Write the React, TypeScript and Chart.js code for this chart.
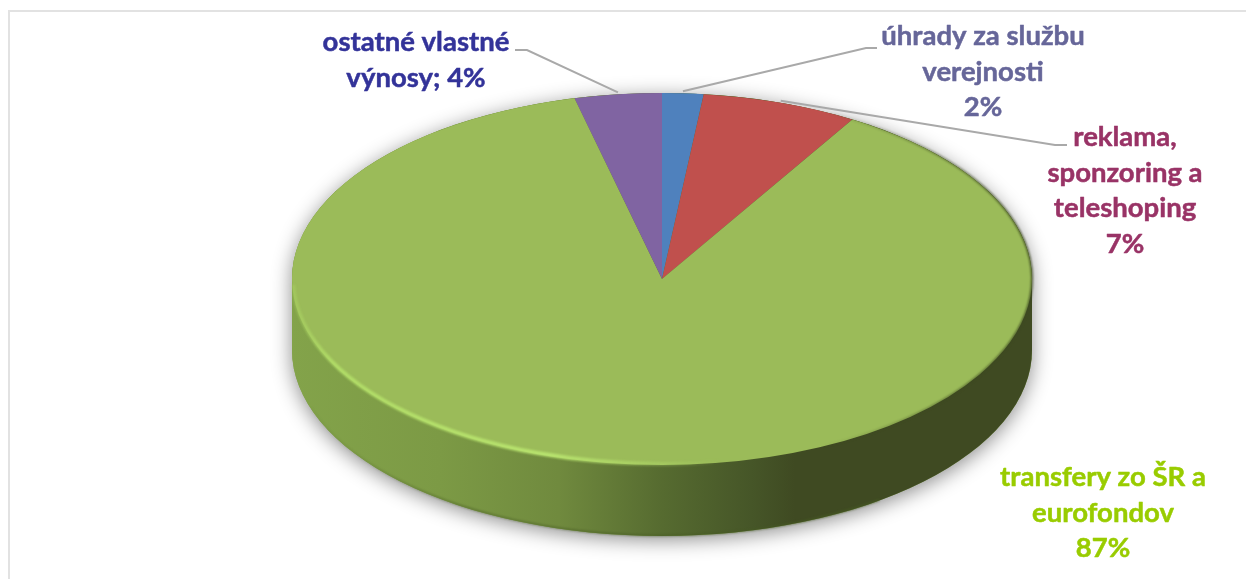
import React, { useEffect, useRef } from "react";
import { Chart, registerables } from "chart.js";

Chart.register(...registerables);

const categories = ["úhrady za službu verejnosti", "reklama, sponzoring a teleshoping", "transfery zo ŠR a eurofondov", "ostatné vlastné výnosy"];
const seriesValues = [1.8, 6.8, 87.6, 3.8];
const sliceColors = ["#4f81bd", "#c0504d", "#9bbb59", "#8064a2"];
const labelLines = [
  ["úhrady za službu", "verejnosti", "2%"],
  ["reklama,", "sponzoring a", "teleshoping", "7%"],
  ["transfery zo ŠR a", "eurofondov", "87%"],
  ["ostatné vlastné", "výnosy; 4%"],
];
const labelColors = ["#666699", "#993366", "#99cc00", "#333399"];
const labelCentres = [[983, 45], [1125, 146], [1103, 486], [416, 51]];
const leaderElbows: (number[][] | null)[] = [
  [[877, 48], [866, 48]],
  [[1067, 145], [1055, 145]],
  null,
  [[515, 50], [527, 50]],
];

const CX = 662, CY = 279, RX = 370, RY = 186, DEPTH = 71;

const pie3d = {
  id: "pie3d",
  beforeDraw(chart: any) {
    const { ctx, width, height } = chart;
    ctx.save();
    ctx.fillStyle = "#ffffff";
    ctx.fillRect(0, 0, width, height);
    ctx.fillStyle = "#e2e2e2";
    ctx.fillRect(8, 10, width - 8, 2);
    ctx.fillRect(8, 10, 2, height - 10);
    ctx.restore();
  },
  beforeDatasetsDraw(chart: any) {
    const { ctx } = chart;
    const arc = chart.getDatasetMeta(0).data[0];
    const outline = () => {
      ctx.beginPath();
      ctx.ellipse(CX, CY, RX, RY, 0, Math.PI, 2 * Math.PI);
      ctx.lineTo(CX + RX, CY + DEPTH);
      ctx.ellipse(CX, CY + DEPTH, RX, RY, 0, 0, Math.PI);
      ctx.closePath();
    };
    ctx.save();
    ctx.shadowColor = "rgba(0,0,0,0.45)";
    ctx.shadowBlur = 20;
    ctx.shadowOffsetY = 4;
    ctx.fillStyle = "#7f9f47";
    outline();
    ctx.fill();
    ctx.restore();

    const g = ctx.createLinearGradient(CX - RX, 0, CX + RX, 0);
    g.addColorStop(0, "#83a34a");
    g.addColorStop(0.2, "#7c9a45");
    g.addColorStop(0.36, "#708a3e");
    g.addColorStop(0.5, "#566b30");
    g.addColorStop(0.62, "#465628");
    g.addColorStop(0.68, "#3f4a22");
    g.addColorStop(1, "#3f4a22");
    ctx.save();
    ctx.fillStyle = g;
    outline();
    ctx.fill();
    ctx.restore();

    ctx.save();
    ctx.translate(CX, CY);
    ctx.scale(RX / arc.outerRadius, RY / arc.outerRadius);
    ctx.translate(-arc.x, -arc.y);
  },
  afterDatasetsDraw(chart: any) {
    const { ctx } = chart;
    ctx.restore();

    ctx.save();
    ctx.filter = "blur(1.2px)";
    const light = ctx.createLinearGradient(CX - RX, 0, CX + 60, 0);
    light.addColorStop(0, "rgba(178,222,104,0.3)");
    light.addColorStop(0.1, "rgba(178,222,104,0.95)");
    light.addColorStop(0.6, "rgba(186,230,112,0.95)");
    light.addColorStop(1, "rgba(186,230,112,0)");
    ctx.strokeStyle = light;
    ctx.lineWidth = 4;
    ctx.beginPath();
    ctx.ellipse(CX, CY, RX - 1, RY - 1, 0, Math.PI * 0.99, Math.PI * 0.45, true);
    ctx.stroke();

    const dark = ctx.createLinearGradient(CX + 160, 0, CX + RX, 0);
    dark.addColorStop(0, "rgba(60,72,32,0)");
    dark.addColorStop(0.6, "rgba(60,72,32,0.6)");
    dark.addColorStop(1, "rgba(60,72,32,0.9)");
    ctx.strokeStyle = dark;
    ctx.lineWidth = 2;
    ctx.beginPath();
    ctx.ellipse(CX, CY, RX, RY, 0, -Math.PI * 0.35, Math.PI * 0.4);
    ctx.stroke();

    const edge = ctx.createLinearGradient(CX - RX, 0, CX + 200, 0);
    edge.addColorStop(0, "rgba(70,90,35,0)");
    edge.addColorStop(0.3, "rgba(70,90,35,0.6)");
    edge.addColorStop(1, "rgba(70,90,35,0.9)");
    ctx.strokeStyle = edge;
    ctx.lineWidth = 1.5;
    ctx.beginPath();
    ctx.ellipse(CX, CY + DEPTH, RX - 0.5, RY - 0.5, 0, Math.PI * 0.9, Math.PI * 0.3, true);
    ctx.stroke();
    ctx.restore();
  },
  afterDraw(chart: any) {
    const { ctx } = chart;
    const arcs = chart.getDatasetMeta(0).data;
    ctx.save();
    ctx.lineWidth = 2;
    ctx.strokeStyle = "#a9a9a9";
    arcs.forEach((a: any, i: number) => {
      const elbows = leaderElbows[i];
      if (!elbows) return;
      const mid = (a.startAngle + a.endAngle) / 2;
      ctx.beginPath();
      ctx.moveTo(elbows[0][0], elbows[0][1]);
      ctx.lineTo(elbows[1][0], elbows[1][1]);
      ctx.lineTo(CX + RX * Math.cos(mid), CY + RY * Math.sin(mid) - 2);
      ctx.stroke();
    });
    ctx.font = 'bold 27.5px Lato, "Open Sans", sans-serif';
    ctx.textAlign = "center";
    ctx.textBaseline = "alphabetic";
    ctx.lineWidth = 0.5;
    ctx.lineJoin = "round";
    labelLines.forEach((lines, i) => {
      ctx.fillStyle = labelColors[i];
      ctx.strokeStyle = labelColors[i];
      lines.forEach((line, j) => {
        const x = labelCentres[i][0];
        const y = labelCentres[i][1] + j * 35.5;
        ctx.fillText(line, x, y);
        ctx.strokeText(line, x, y);
      });
    });
    ctx.restore();
  },
};

export default function App() {
  const ref = useRef<HTMLCanvasElement>(null);
  useEffect(() => {
    const chart = new Chart(ref.current as HTMLCanvasElement, {
      type: "pie",
      data: {
        labels: categories,
        datasets: [{ data: seriesValues, backgroundColor: sliceColors, borderWidth: 0, clip: false } as any],
      },
      options: {
        responsive: false,
        animation: false,
        layout: { padding: 0 },
        plugins: { legend: { display: false }, tooltip: { enabled: false } },
      },
      plugins: [pie3d],
    });
    return () => chart.destroy();
  }, []);
  return (
    <canvas
      ref={ref}
      width={1246}
      height={579}
      style={{ position: "absolute", left: 0, top: 0, width: 1246, height: 579, display: "block" }}
    />
  );
}
